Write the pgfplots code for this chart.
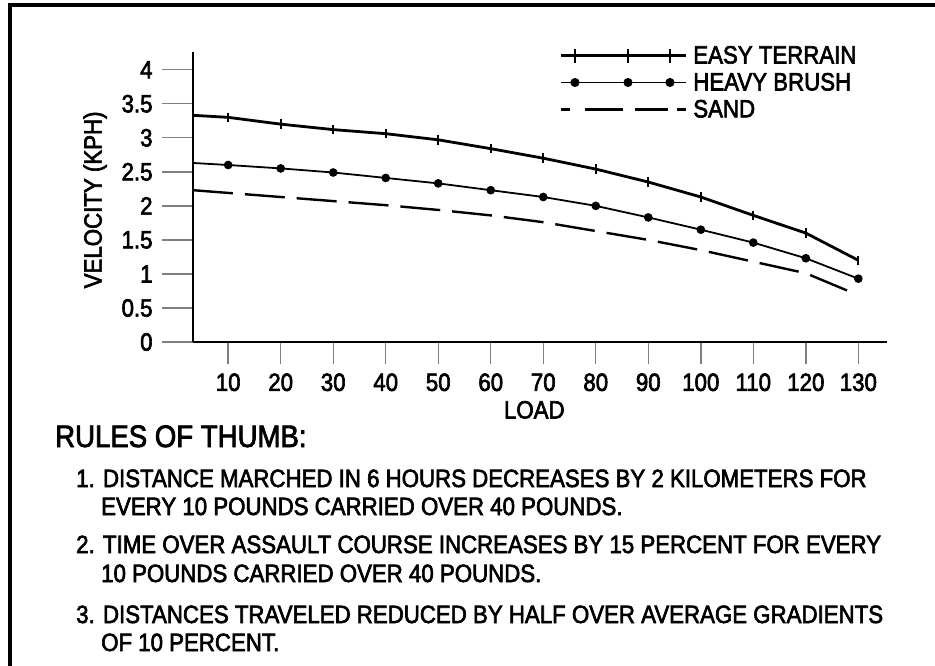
\documentclass[border=0pt]{standalone}
\usepackage{fontspec}
\setmainfont{Liberation Sans}[FakeStretch=0.89, FakeBold=2.5]
\usepackage{pgfplots}
\pgfplotsset{compat=1.18}
\newcommand{\tf}{\fontsize{25bp}{29bp}\selectfont}
\begin{document}
\begin{tikzpicture}
\useasboundingbox (0bp,0bp) rectangle (935bp,-666bp);
\draw[line width=3.5bp] (10bp,-667bp) -- (10bp,-5bp) -- (936bp,-5bp);
\begin{axis}[
  at={(193bp,-342bp)}, anchor=south west, scale only axis,
  width=693.7bp, height=290bp,
  xmin=3.3, xmax=135.4, ymin=0, ymax=4.26,
  axis lines*=left,
  axis line style={line width=2.6bp},
  tick align=outside,
  xtick={10,20,...,130},
  ytick={0,0.5,1,1.5,2,2.5,3,3.5,4},
  yticklabels={0,0.5,1,1.5,2,2.5,3,3.5,4},
  xticklabels={10,20,30,40,50,60,70,80,90,100,110,120,130},
  xtick style={line width=1.4bp,/pgfplots/major tick length=22bp},
  ytick style={line width=1.4bp,/pgfplots/major tick length=31bp},
  tick label style={font=\tf},
  yticklabel style={anchor=east, inner sep=0pt, xshift=-36bp},
  xticklabel style={anchor=north, inner sep=0pt, yshift=-27bp},
  /pgf/number format/assume math mode=true,
  xlabel={LOAD}, ylabel={VELOCITY (KPH)},
  label style={font=\tf},
  xlabel style={at={(axis description cs:0.492,-0.234)}, anchor=center},
  ylabel style={at={(axis description cs:-0.141,0.49)}, anchor=center},
  legend style={at={(axis description cs:0.524,1.035)}, anchor=north west,
    draw=none, fill=none, font=\tf, row sep=4bp,
    nodes={inner ysep=2bp, inner xsep=6bp}},
  legend cell align=left,
  clip=false,
]
\addplot[line width=2.8bp, mark=|, mark indices={2,3,4,5,6,7,8,9,10,11,12,13,14},
  mark options={line width=1.8bp, scale=2.4},
  legend image code/.code={
    \draw[line width=2.6bp] (0bp,0bp) -- (125bp,0bp);
    \foreach \xx in {14,67,109}{\draw[line width=1.8bp] (\xx bp,-7bp) -- (\xx bp,7bp);}
  }] coordinates {
 (3.3,3.33) (10,3.30) (20,3.20) (30,3.12) (40,3.06) (50,2.97) (60,2.84) (70,2.70)
 (80,2.54) (90,2.35) (100,2.13) (110,1.86) (120,1.60) (130,1.20)};
\addlegendentry{EASY TERRAIN}
\addplot[line width=1.8bp, mark=*, mark indices={2,3,4,5,6,7,8,9,10,11,12,13,14},
  mark options={scale=1.7},
  legend image code/.code={
    \draw[line width=1.8bp] (0bp,0bp) -- (125bp,0bp);
    \foreach \xx in {14,67,109}{\fill (\xx bp,0bp) circle (3.6bp);}
  }] coordinates {
 (3.3,2.63) (10,2.60) (20,2.55) (30,2.49) (40,2.41) (50,2.33) (60,2.23) (70,2.13)
 (80,2.00) (90,1.83) (100,1.65) (110,1.46) (120,1.23) (130,0.93)};
\addlegendentry{HEAVY BRUSH}
\addplot[line width=2.4bp, dash pattern=on 40bp off 12bp,
  legend image code/.code={
    \draw[line width=2.4bp, dash pattern=on 9bp off 15bp on 38bp off 12bp on 33bp off 9bp on 9bp] (0bp,0bp) -- (125bp,0bp);
  }] coordinates {
 (3.3,2.23) (10,2.19) (20,2.13) (30,2.07) (40,2.01) (50,1.94) (60,1.86) (70,1.76)
 (80,1.63) (90,1.50) (100,1.35) (110,1.18) (120,1.01) (129,0.72)};
\addlegendentry{SAND}
\end{axis}
\node[anchor=base west, inner sep=0pt, font=\fontsize{31bp}{34bp}\selectfont] at (55bp,-447bp) {RULES OF THUMB:};
\begin{scope}[every node/.style={anchor=base west, inner sep=0pt, font=\fontsize{25bp}{29bp}\selectfont}]
\node at (76bp,-487bp) {1. DISTANCE MARCHED IN 6 HOURS DECREASES BY 2 KILOMETERS FOR};
\node at (101bp,-515bp) {EVERY 10 POUNDS CARRIED OVER 40 POUNDS.};
\node at (76bp,-553bp) {2. TIME OVER ASSAULT COURSE INCREASES BY 15 PERCENT FOR EVERY};
\node at (101bp,-582bp) {10 POUNDS CARRIED OVER 40 POUNDS.};
\node at (76bp,-623bp) {3. DISTANCES TRAVELED REDUCED BY HALF OVER AVERAGE GRADIENTS};
\node at (101bp,-651bp) {OF 10 PERCENT.};
\end{scope}
\end{tikzpicture}
\end{document}
